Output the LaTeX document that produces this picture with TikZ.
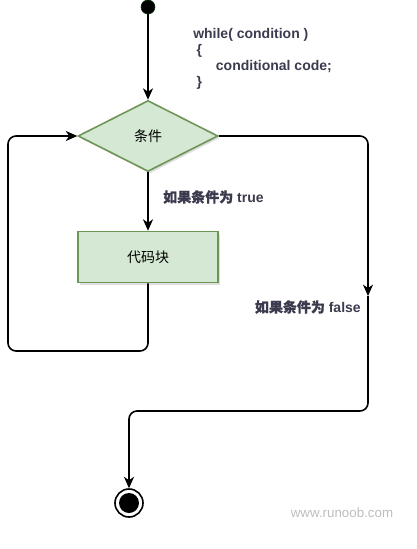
\documentclass[tikz,border=0pt]{standalone}
\usepackage{fontspec}
\setmainfont{Liberation Sans}
\newfontfamily\cjk{Noto Sans CJK SC}
\newfontfamily\cjkbold[FakeBold=0.7]{Noto Sans CJK SC}
\usetikzlibrary{shapes.geometric,arrows.meta,shadows}
\definecolor{boxfill}{HTML}{D5E8D4}
\definecolor{boxline}{HTML}{6D9656}
\definecolor{lblgray}{HTML}{3B3B4F}
\definecolor{markgray}{HTML}{BDBDBD}
\tikzset{%
  stepnode/.style = {draw=boxline, fill=boxfill, line width=1.2pt,%
                     font=\cjk\fontsize{10.5}{12}\selectfont,%
                     drop shadow={shadow xshift=1.5pt, shadow yshift=-1.5pt,%
                                  opacity=0.25}},%
  test/.style     = {stepnode, diamond, inner sep=0pt,%
                     minimum width=105pt, minimum height=53.25pt},%
  block/.style    = {stepnode, rectangle, minimum width=105pt,%
                     minimum height=38.25pt},%
  startdot/.style = {circle, draw=black!80!green, fill=black,%
                     inner sep=0pt, minimum size=10.5pt},%
  stopdot/.style  = {circle, draw, fill=white, line width=1.2pt,%
                     inner sep=0pt, minimum size=21pt,%
                     path picture={\fill[black] (path picture bounding box.center) circle (7.5pt);}},%
  flow/.style     = {line width=1.2pt, rounded corners=6pt,%
                     -{Stealth[length=8.5pt,width=7.5pt,inset=2.5pt]}},%
  label/.style    = {text=lblgray, inner sep=0pt,%
                     font=\bfseries\fontsize{10.5}{12}\selectfont}%
}
\begin{document}
\begin{tikzpicture}[x=0.75pt,y=-0.75pt]
	\useasboundingbox (0,0) rectangle (417,549);
	\node [startdot] (begin) at (148,7) {};
	\node [test] (cond) at (148,136) {条件};
	\node [block] (body) at (148,257) {代码块};
	\node [stopdot] (stop) at (129,503) {};
	\coordinate (fdown) at (368,296);
	\coordinate (fbend) at (129,411);
	\coordinate (lbend) at (8,351);
	% code text
	\node [label, align=left, anchor=north west] (code) at (193,28)
		{while( condition )\\ \hspace*{2.5pt}\{\\ \hspace*{17pt}conditional code;\\ \hspace*{2.5pt}\}};
	\draw [flow] (begin) -- (cond.north);
	\draw [flow] (cond.south) -- (body.north);
	\draw [flow] (body.south) |- (lbend) |- (cond.west);
	\draw [flow] (cond.east) -| (fdown);
	\draw [flow] (fdown) |- (fbend) -- (stop.north);
	\node [label, anchor=west] (yes) at (163,197) {{\cjkbold 如果条件为} true};
	\node [label, anchor=east] (no) at (361,307) {{\cjkbold 如果条件为} false};
	\node [text=markgray, font=\fontsize{10}{12}\selectfont] (mark) at (342,513) {www.runoob.com};
\end{tikzpicture}
\end{document}
